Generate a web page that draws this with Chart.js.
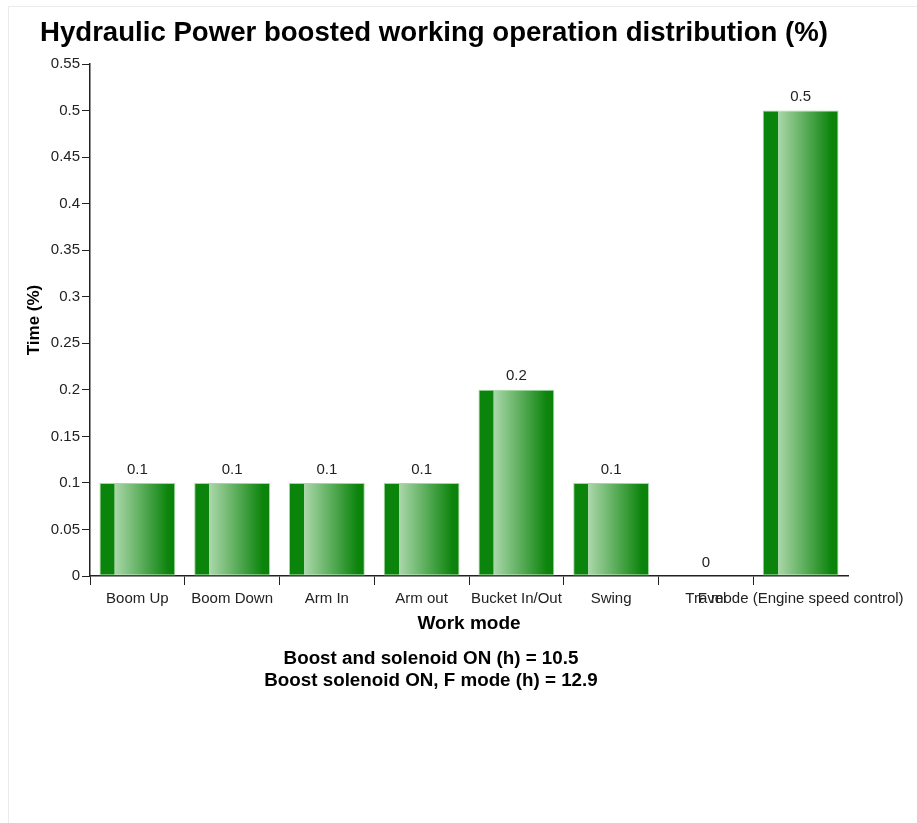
<!DOCTYPE html>
<html>
<head>
<meta charset="utf-8">
<script src="https://cdn.jsdelivr.net/npm/chart.js@4.4.1/dist/chart.umd.min.js"></script>
<style>
	body { margin: 0; background: #fff; font-family: "Liberation Sans", Arial, sans-serif; }
	.panel { position: absolute; left: 8px; top: 6px; width: 1000px; height: 1000px; border: 1px solid #ebebeb; }
	#chart { position: absolute; left: 0; top: 0; }
	.title { position: absolute; left: 40px; top: 16px; font-size: 27.6px; line-height: 32px; font-weight: bold; color: #000; white-space: nowrap; }
	.footer { position: absolute; left: 0; top: 647px; width: 862px; text-align: center; font-size: 18.8px; line-height: 22px; font-weight: bold; color: #000; }
</style>
</head>
<body>
<div class="panel"></div>
<canvas id="chart" width="917" height="823"></canvas>
<div class="title" id="title"></div>
<div class="footer" id="footer"></div>
<script type="text/javascript">
	const chartTitle = "Hydraulic Power boosted working operation distribution (%)"
	const categories = ["Boom Up", "Boom Down", "Arm In", "Arm out", "Bucket In/Out", "Swing", "Travel", "F mode (Engine speed control)"]
	const timeShare = [0.1, 0.1, 0.1, 0.1, 0.2, 0.1, 0, 0.5]
	const yTicks = [0, 0.05, 0.1, 0.15, 0.2, 0.25, 0.3, 0.35, 0.4, 0.45, 0.5, 0.55]
	const footerLines = ["Boost and solenoid ON (h) = 10.5", "Boost solenoid ON, F mode (h) = 12.9"]

	document.getElementById("title").textContent = chartTitle
	document.getElementById("footer").innerHTML = footerLines.join("<br>")

	Chart.defaults.font.family = "'Liberation Sans', Arial, sans-serif"
	Chart.defaults.color = "#222"

	// green bar with a dark strip on the left, then light -> dark
	let barFill = function(ctx) {
		let chart = ctx.chart
		let x = chart.scales.x
		if(!chart.chartArea || !x) {
			return "#0a830a"
		}
		let half = x.width / categories.length * 0.8 / 2
		let cx = x.getPixelForValue(ctx.dataIndex)
		let g = chart.ctx.createLinearGradient(cx - half, 0, cx + half, 0)
		g.addColorStop(0, "#0a840a")
		g.addColorStop(0.195, "#0a840a")
		g.addColorStop(0.2, "#abd7ab")
		g.addColorStop(0.9, "#0d850d")
		g.addColorStop(1, "#0a820a")
		return g
	}

	let valueLabels = {
		id: "valueLabels",
		afterDatasetsDraw: function(chart) {
			let ctx = chart.ctx
			let meta = chart.getDatasetMeta(0)
			ctx.save()
			ctx.font = "15px 'Liberation Sans', Arial, sans-serif"
			ctx.fillStyle = "#222"
			ctx.textAlign = "center"
			ctx.textBaseline = "bottom"
			meta.data.forEach(function(bar, i) {
				ctx.fillText(String(timeShare[i]), bar.x, bar.y - 6)
			})
			ctx.restore()
		}
	}

	new Chart(document.getElementById("chart"), {
		type: "bar",
		data: {
			labels: categories,
			datasets: [{
				data: timeShare,
				backgroundColor: barFill,
				borderColor: "rgba(150, 212, 150, 0.9)",
				borderWidth: function(ctx) { return ctx.raw === 0 ? 0 : 1 },
				borderSkipped: false,
				barPercentage: 0.8,
				categoryPercentage: 1,
			}],
		},
		options: {
			responsive: false,
			animation: false,
			layout: { padding: { left: 20, top: 64, right: 69, bottom: 184 } },
			plugins: {
				legend: { display: false },
				tooltip: { enabled: false },
			},
			scales: {
				x: {
					offset: true,
					grid: {
						display: true,
						offset: true,
						drawOnChartArea: false,
						tickLength: 9,
						tickWidth: 1,
						// the extra closing line at the right end gets the scale context, hide it
						tickColor: function(c) { return c.type === "tick" ? "#222" : "rgba(0,0,0,0)" },
					},
					border: { display: true, color: "#222", width: 1.5 },
					ticks: { autoSkip: false, maxRotation: 0, minRotation: 0, padding: 5, font: { size: 15 } },
					title: { display: true, text: "Work mode", color: "#000", font: { size: 19, weight: "bold" } },
					afterFit: function(s) { s.height = 63 },
				},
				y: {
					min: 0,
					max: 0.55,
					grid: { display: true, drawOnChartArea: false, tickLength: 8, tickWidth: 1, tickColor: "#222" },
					border: { display: true, color: "#222", width: 1.5 },
					ticks: { padding: 2, font: { size: 15 }, callback: function(v) { return String(v) } },
					afterBuildTicks: function(s) { s.ticks = yTicks.map(function(v) { return { value: v } }) },
					title: { display: true, text: "Time (%)", color: "#000", font: { size: 17, weight: "bold" } },
					afterFit: function(s) { s.width = 70 },
				},
			},
		},
		plugins: [valueLabels],
	})
</script>
</body>
</html>
